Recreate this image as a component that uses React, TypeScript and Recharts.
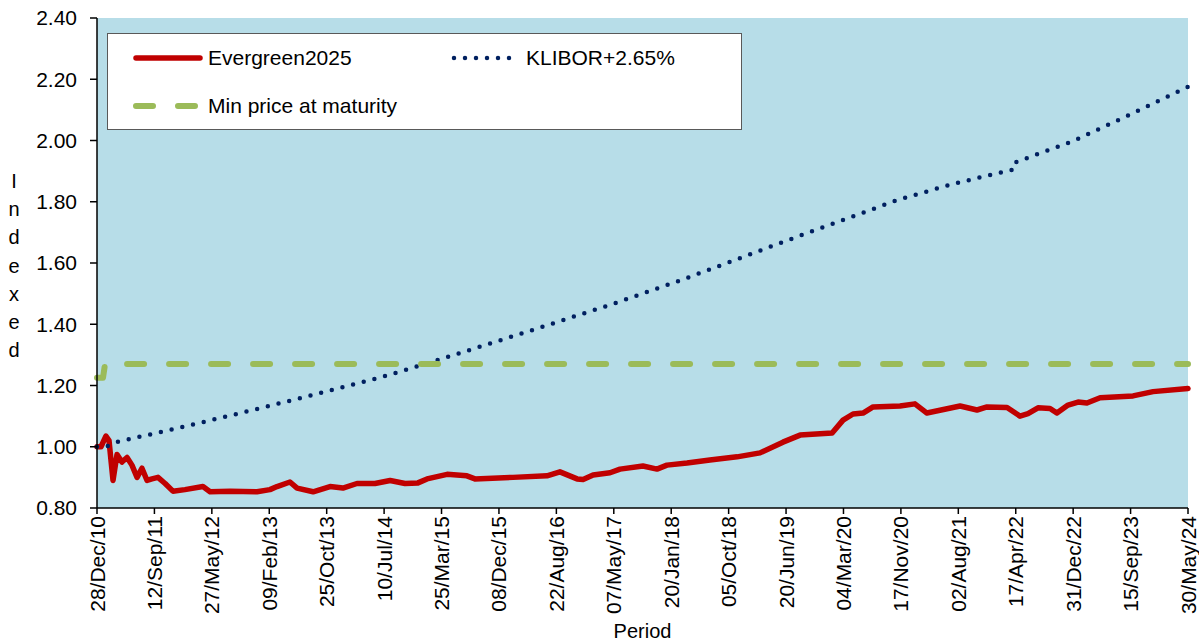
import { LineChart, Line, XAxis, YAxis, CartesianGrid, Legend } from 'recharts';

// x axis: days since 28/Dec/10, one label every 258 days
const xLabels = [
  '28/Dec/10', '12/Sep/11', '27/May/12', '09/Feb/13', '25/Oct/13',
  '10/Jul/14', '25/Mar/15', '08/Dec/15', '22/Aug/16', '07/May/17',
  '20/Jan/18', '05/Oct/18', '20/Jun/19', '04/Mar/20', '17/Nov/20',
  '02/Aug/21', '17/Apr/22', '31/Dec/22', '15/Sep/23', '30/May/24',
];
const tickStep = 258;
const xTicks = xLabels.map((_, i) => i * tickStep);
const yTicks = [0.8, 1.0, 1.2, 1.4, 1.6, 1.8, 2.0, 2.2, 2.4];

const evergreenDays = [
  0, 18, 40, 54, 72, 90, 112, 135, 157, 180,
  202, 225, 247, 274, 306, 341, 395, 476, 508, 598,
  719, 777, 809, 867, 899, 971, 1047, 1105, 1168, 1249,
  1317, 1384, 1442, 1483, 1573, 1662, 1698, 1869, 2022, 2080,
  2157, 2184, 2229, 2305, 2350, 2453, 2516, 2561, 2651, 2754,
  2876, 2979, 3082, 3159, 3303, 3352, 3397, 3442, 3487, 3608,
  3675, 3729, 3878, 3954, 3999, 4089, 4147, 4183, 4228, 4282,
  4313, 4363, 4408, 4448, 4507, 4655, 4745, 4902,
];
const evergreenValues = [
  1.0, 1.0, 1.035, 1.02, 0.89, 0.975, 0.95, 0.965, 0.94, 0.9,
  0.93, 0.89, 0.895, 0.9, 0.88, 0.855, 0.86, 0.87, 0.853, 0.855,
  0.853, 0.86, 0.87, 0.885, 0.865, 0.853, 0.87, 0.865, 0.88, 0.88,
  0.89, 0.88, 0.882, 0.895, 0.91, 0.905, 0.895, 0.9, 0.905, 0.918,
  0.895, 0.893, 0.908, 0.915, 0.927, 0.937, 0.927, 0.94, 0.947, 0.957,
  0.967, 0.98, 1.015, 1.038, 1.045, 1.087, 1.107, 1.11, 1.13, 1.133,
  1.14, 1.11, 1.133, 1.12, 1.13, 1.128, 1.1, 1.108, 1.127, 1.125,
  1.11, 1.136, 1.146, 1.143, 1.16, 1.166, 1.18, 1.19,
];

const kliborDays = [0, 40, 90, 328, 611, 899, 1281, 1505, 1887, 2305, 2628, 3132, 3598, 3855, 4112, 4116, 4386, 4642, 4902];
const kliborValues = [1.0, 1.0, 1.016, 1.055, 1.104, 1.156, 1.228, 1.277, 1.365, 1.463, 1.545, 1.682, 1.806, 1.86, 1.904, 1.926, 1.998, 2.085, 2.175];

const minPriceDays = [0, 27, 36, 4902];
const minPriceValues = [1.225, 1.225, 1.27, 1.27];

const toPoints = (days: number[], values: number[]) => days.map((d, i) => ({ d, v: values[i] }));

const evergreenData = toPoints(evergreenDays, evergreenValues);
const kliborData = toPoints(kliborDays, kliborValues);
const minPriceData = toPoints(minPriceDays, minPriceValues);

const FONT = '"Liberation Sans", Arial, sans-serif';
const FS = 21;

const series = [
  { key: 'Evergreen2025', data: evergreenData, color: '#c00000', width: 5.5, dash: undefined },
  { key: 'KLIBOR+2.65%', data: kliborData, color: '#002060', width: 4.5, dash: '0 11' },
  { key: 'Min price at maturity', data: minPriceData, color: '#9bbb59', width: 6, dash: '17 25' },
];

function RotatedTick(props: any) {
  const { x, y, payload } = props;
  const label = xLabels[Math.round(payload.value / tickStep)];
  return (
    <text
      x={x}
      y={y}
      transform={`rotate(-90 ${x} ${y})`}
      textAnchor="end"
      dy="0.36em"
      fontSize={FS}
      fill="#000"
      fontFamily={FONT}
    >
      {label}
    </text>
  );
}

function StackedLabel() {
  const letters = 'Indexed'.split('');
  return (
    <text x={14} y={188} textAnchor="middle" fontSize={20} fill="#000" fontFamily={FONT}>
      {letters.map((ch, i) => (
        <tspan key={i} x={14} dy={i === 0 ? 0 : 28.2}>
          {ch}
        </tspan>
      ))}
    </text>
  );
}

// legend placement inside the box
const legendSlots = [
  { left: 24, top: 24 },
  { left: 342, top: 24 },
  { left: 24, top: 72 },
];

function LegendBox() {
  return (
    <div
      style={{
        position: 'relative',
        width: 635,
        height: 97,
        boxSizing: 'border-box',
        background: '#fff',
        border: '1.5px solid #595959',
        fontFamily: FONT,
        fontSize: FS,
        color: '#000',
      }}
    >
      {series.map((s, i) => (
        <div
          key={s.key}
          style={{
            position: 'absolute',
            left: legendSlots[i].left,
            top: legendSlots[i].top - 12,
            height: 24,
            display: 'flex',
            alignItems: 'center',
            whiteSpace: 'nowrap',
          }}
        >
          <svg width={72} height={12} style={{ marginRight: 4 }}>
            <line
              x1={4}
              y1={6}
              x2={68}
              y2={6}
              stroke={s.color}
              strokeWidth={s.width}
              strokeLinecap="round"
              strokeDasharray={s.dash}
            />
          </svg>
          <span>{s.key}</span>
        </div>
      ))}
    </div>
  );
}

export default function App() {
  return (
    <div>
      <style>{'body{margin:0}'}</style>
      <LineChart
        width={1199}
        height={644}
        margin={{ top: 18, right: 11, left: 0, bottom: 0 }}
        style={{ fontFamily: FONT }}
      >
        <CartesianGrid horizontal={false} vertical={false} fill="#b7dde8" />
        <XAxis
          dataKey="d"
          type="number"
          domain={[0, 4902]}
          ticks={xTicks}
          interval={0}
          height={136}
          tick={<RotatedTick />}
          tickSize={6}
          tickMargin={2}
          axisLine={{ stroke: '#000', strokeWidth: 1.5 }}
          tickLine={{ stroke: '#000', strokeWidth: 1.5 }}
          label={{ value: 'Period', position: 'insideBottom', offset: 6, fontSize: 20, fill: '#000' }}
        />
        <YAxis
          yAxisId="left"
          type="number"
          domain={[0.8, 2.4]}
          ticks={yTicks}
          width={97}
          tickFormatter={(v: number) => v.toFixed(2)}
          tick={{ fontSize: FS, fill: '#000', fontFamily: FONT }}
          tickSize={7}
          tickMargin={13}
          axisLine={{ stroke: '#000', strokeWidth: 1.5 }}
          tickLine={{ stroke: '#000', strokeWidth: 1.5 }}
          label={{ content: <StackedLabel /> }}
        />
        <YAxis
          yAxisId="right"
          orientation="right"
          type="number"
          domain={[0.8, 2.4]}
          width={0}
          tick={false}
          tickLine={false}
          axisLine={{ stroke: '#000', strokeWidth: 1.5 }}
        />
        <Legend
          layout="horizontal"
          verticalAlign="middle"
          align="center"
          wrapperStyle={{ top: 33, left: 107, width: 635, height: 97 }}
          content={<LegendBox />}
        />
        {series.map((s) => (
          <Line
            key={s.key}
            yAxisId="left"
            data={s.data}
            dataKey="v"
            name={s.key}
            type="linear"
            stroke={s.color}
            strokeWidth={s.width}
            strokeDasharray={s.dash}
            strokeLinecap="round"
            strokeLinejoin="round"
            dot={false}
            activeDot={false}
            isAnimationActive={false}
          />
        ))}
      </LineChart>
    </div>
  );
}
